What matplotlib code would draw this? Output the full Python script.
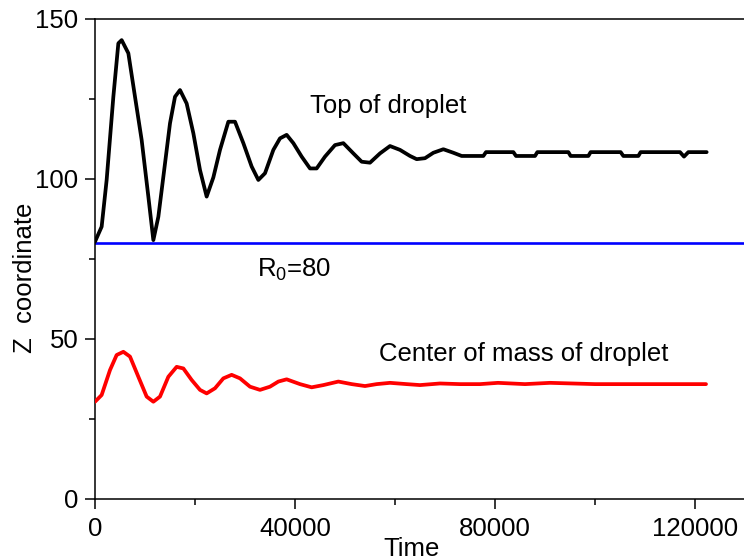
import matplotlib
matplotlib.use("Agg")
import matplotlib.pyplot as plt
from matplotlib.ticker import MultipleLocator

plt.rcParams.update({"font.family": "Liberation Sans",
                     "mathtext.fontset": "custom",
                     "mathtext.rm": "Liberation Sans",
                     "mathtext.it": "Liberation Sans:italic"})

# ── Data ──────────────────────────────────────────────────────────────────────
top_t = [0, 1330, 2330, 3670, 4670, 5330, 6670, 8000, 9330, 10670, 11670,
         12670, 13670, 15000, 16000, 17000, 18330, 19670, 21000, 22330,
         23670, 25000, 26670, 28000, 29670, 31330, 32670, 34000, 35670,
         37000, 38330, 39670, 41330, 43000, 44330, 46000, 48000, 49670,
         51670, 53330, 55000, 57000, 59000, 61000, 63000, 64330, 66000,
         67670, 69670, 71670, 73330, 77670, 78200, 83670, 84200, 88000,
         88470, 94670, 95130, 98670, 99130, 105130, 105670, 108670, 109130,
         117000, 117800, 118670, 122330]
top_z = [80.4, 85.1, 99.7, 125.7, 142.4, 143.4, 139.3, 125.7, 112.2, 94.5, 80.9,
         88.2, 100.7, 117.4, 125.7, 127.8, 123.6, 114.3, 102.8, 94.5,
         100.5, 109.1, 117.9, 117.9, 111.2, 103.9, 99.7, 101.8, 109.1,
         112.7, 113.8, 111.2, 107.0, 103.3, 103.3, 107.0, 110.6, 111.2,
         108.0, 105.4, 105.1, 108.0, 110.3, 109.1, 107.2, 106.2, 106.5,
         108.2, 109.3, 108.2, 107.2, 107.2, 108.4, 108.4, 107.2, 107.2,
         108.4, 108.4, 107.2, 107.2, 108.4, 108.4, 107.2, 107.2, 108.4,
         108.4, 107.0, 108.4, 108.4]

com_t = [0, 1330, 3000, 4330, 5670, 7000, 8670, 10330, 11670, 13000, 14670,
         16330, 17670, 19330, 21000, 22330, 24000, 25670, 27330, 29000,
         31000, 33000, 35000, 36670, 38330, 41000, 43330, 45670, 48670,
         51330, 54000, 56330, 59000, 62330, 65000, 69000, 73000, 77000,
         80600, 86000, 91000, 100000, 110000, 122200]
com_z = [30.4, 32.5, 40.3, 45.0, 46.0, 44.5, 38.2, 32.0, 30.4, 32.0, 38.2,
         41.3, 40.8, 37.2, 34.1, 33.0, 34.6, 37.7, 38.8, 37.7,
         35.1, 34.1, 35.1, 36.7, 37.4, 35.9, 34.9, 35.6, 36.7,
         35.9, 35.3, 35.9, 36.3, 35.9, 35.6, 36.1, 35.9, 35.9,
         36.3, 35.9, 36.3, 35.9, 35.9, 35.9]

R0 = 80

# ── Figure ────────────────────────────────────────────────────────────────────
fig = plt.figure(figsize=(7.44, 5.6), dpi=100)
ax = fig.add_axes([95 / 744, 61 / 560, 649 / 744, 480 / 560])

ax.axhline(R0, color="#0000ff", lw=1.9, zorder=2)
ax.plot(top_t, top_z, color="black", lw=2.7, zorder=3,
        solid_joinstyle="round", solid_capstyle="round")
ax.plot(com_t, com_z, color="#ff0000", lw=2.7, zorder=3,
        solid_joinstyle="round", solid_capstyle="round")

ax.set_xlim(0, 129800)
ax.set_ylim(0, 150)
ax.xaxis.set_major_locator(MultipleLocator(40000))
ax.xaxis.set_minor_locator(MultipleLocator(20000))
ax.yaxis.set_major_locator(MultipleLocator(50))
ax.yaxis.set_minor_locator(MultipleLocator(25))
ax.tick_params(which="both", direction="out", width=1.1, labelsize=18.5)
ax.tick_params(which="major", length=7)
ax.tick_params(which="minor", length=4.3)
ax.tick_params(axis="x", pad=6)
ax.tick_params(axis="y", pad=5)
ax.spines["right"].set_visible(False)
for s in ("left", "bottom", "top"):
    ax.spines[s].set_linewidth(1.1)

ax.text(43000, 120.7, "Top of droplet", fontsize=18.5, ha="left", va="baseline")
ax.text(56800, 43.1, "Center of mass of droplet", fontsize=18.5,
        ha="left", va="baseline")
ax.text(32330, 69.3, r"R$_\mathregular{0}$=80", fontsize=18.5,
        ha="left", va="baseline")

fig.text(412 / 744, 4 / 560, "Time", fontsize=18.5, ha="center", va="baseline")
fig.text(25 / 744, 1 - 278 / 560, "Z  coordinate", fontsize=18.5,
         ha="center", va="center", rotation=90)

fig.savefig("out.png", dpi=100)
